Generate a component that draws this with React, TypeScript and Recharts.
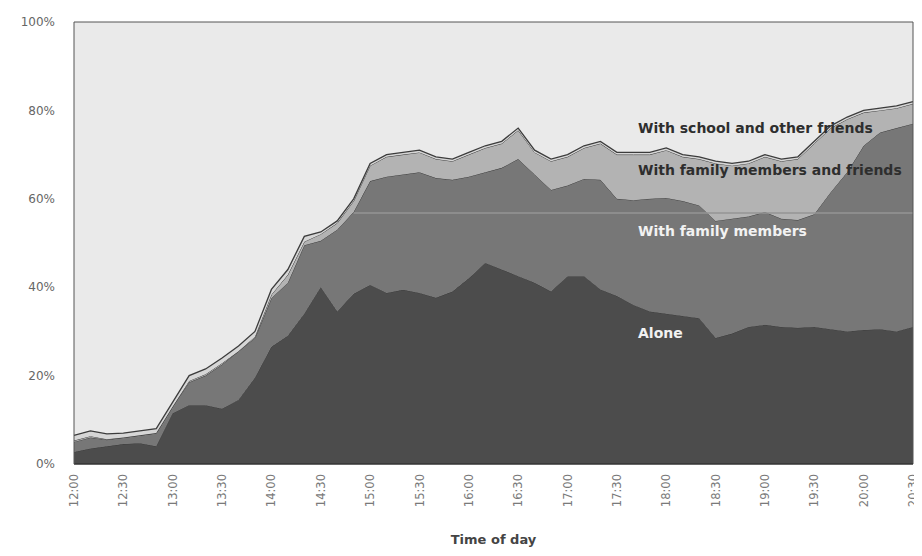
import React from "react";
import {
  AreaChart,
  Area,
  XAxis,
  YAxis,
  CartesianGrid,
  ReferenceLine,
} from "recharts";

const times = [
  "12:00", "12:10", "12:20", "12:30", "12:40", "12:50",
  "13:00", "13:10", "13:20", "13:30", "13:40", "13:50",
  "14:00", "14:10", "14:20", "14:30", "14:40", "14:50",
  "15:00", "15:10", "15:20", "15:30", "15:40", "15:50",
  "16:00", "16:10", "16:20", "16:30", "16:40", "16:50",
  "17:00", "17:10", "17:20", "17:30", "17:40", "17:50",
  "18:00", "18:10", "18:20", "18:30", "18:40", "18:50",
  "19:00", "19:10", "19:20", "19:30", "19:40", "19:50",
  "20:00", "20:10", "20:20", "20:30",
];

// shares of young people (%), stacked bottom to top
const alone = [
  2.7, 3.5, 4.0, 4.5, 4.7, 4.0, 11.5, 13.3, 13.3, 12.5, 14.5, 19.5, 26.5, 29.0,
  34.0, 40.0, 34.5, 38.5, 40.5, 38.7, 39.4, 38.7, 37.6, 39.0, 42.0, 45.5, 44.0,
  42.5, 41.0, 39.0, 42.5, 42.5, 39.5, 38.0, 36.0, 34.5, 34.0, 33.5, 33.0, 28.5,
  29.5, 31.0, 31.5, 31.0, 30.8, 31.0, 30.5, 30.0, 30.3, 30.5, 30.0, 31.0,
];
const withFamily = [
  2.3, 2.5, 1.5, 1.5, 1.8, 3.0, 1.5, 5.2, 6.7, 10.0, 11.0, 9.0, 11.0, 12.0,
  15.5, 10.5, 18.5, 18.5, 23.5, 26.3, 26.1, 27.3, 27.1, 25.3, 23.0, 20.5, 23.0,
  26.5, 24.5, 23.0, 20.5, 22.0, 24.8, 22.0, 23.7, 25.5, 26.2, 26.0, 25.5, 26.5,
  26.0, 25.0, 25.5, 24.5, 24.4, 25.5, 31.0, 36.0, 41.7, 44.5, 46.0, 46.0,
];
const withFamilyAndFriends = [
  0.3, 0.3, 0.1, 0, 0, 0, 0, 0.3, 0.3, 0.3, 0, 0.3, 0.8, 1.8, 0.8, 1.5, 1.5,
  2.5, 3.5, 4.5, 4.5, 4.5, 4.3, 4.2, 5.0, 5.5, 5.5, 6.5, 5.0, 6.5, 6.5, 7.0,
  8.2, 10.0, 10.3, 10.0, 10.8, 10.0, 10.5, 13.0, 12.0, 12.0, 12.5, 13.0, 13.8,
  16.0, 14.5, 12.0, 7.5, 5.0, 4.5, 4.5,
];
const withSchoolFriends = [
  1.2, 1.2, 1.2, 1.0, 1.0, 1.0, 1.0, 1.2, 1.2, 1.2, 1.2, 1.2, 1.2, 1.2, 1.2,
  0.5, 0.5, 0.5, 0.5, 0.5, 0.5, 0.5, 0.5, 0.5, 0.5, 0.5, 0.5, 0.5, 0.5, 0.5,
  0.5, 0.5, 0.5, 0.5, 0.5, 0.5, 0.5, 0.5, 0.5, 0.5, 0.5, 0.5, 0.5, 0.5, 0.5,
  0.5, 0.5, 0.5, 0.5, 0.5, 0.5, 0.5,
];

const yTicks = [0, 20, 40, 60, 80, 100];

const data = times.map((t, i) => ({
  time: t,
  alone: alone[i],
  family: withFamily[i],
  familyFriends: withFamilyAndFriends[i],
  school: withSchoolFriends[i],
}));

const FONT = "'DejaVu Sans', Verdana, sans-serif";
const OUTLINE = "#3c3c3c";

const TimeTick = ({ x, y, payload }: any) => (
  <g transform={`translate(${x},${y + 2})`}>
    <text
      transform="rotate(-90)"
      textAnchor="end"
      dy="0.35em"
      fontSize={11.5}
      fill="#7a7a7a"
      fontFamily={FONT}
    >
      {payload.value}
    </text>
  </g>
);

const labelStyle: React.CSSProperties = {
  position: "absolute",
  fontFamily: FONT,
  fontWeight: "bold",
  fontSize: 14,
  whiteSpace: "nowrap",
  lineHeight: "16px",
};

export default function App() {
  return (
    <div
      style={{
        position: "relative",
        width: 922,
        height: 556,
        margin: "-8px -8px -8px -8px",
        background: "#fff",
        overflow: "hidden",
      }}
    >
      <AreaChart
        width={922}
        height={556}
        data={data}
        margin={{ top: 22, right: 9, left: 0, bottom: 0 }}
        style={{ overflow: "visible" }}
      >
        <CartesianGrid horizontal={false} vertical={false} fill="#eaeaea" />
        <XAxis
          dataKey="time"
          interval={2}
          tick={<TimeTick />}
          tickLine={false}
          axisLine={{ stroke: "#333", strokeWidth: 1.5 }}
          height={92}
          label={{
            value: "Time of day",
            position: "insideBottom",
            offset: 12,
            fontFamily: FONT,
            fontWeight: "bold",
            fontSize: 13,
            fill: "#444",
          }}
        />
        <YAxis
          domain={[0, 100]}
          ticks={yTicks}
          tickFormatter={(v) => `${v}%`}
          width={74}
          tickSize={0}
          tickMargin={19}
          tickLine={false}
          axisLine={{ stroke: "#555" }}
          tick={{ fontSize: 12, fill: "#666", fontFamily: FONT }}
        />
        <Area
          type="linear"
          dataKey="alone"
          stackId="1"
          fill="#4c4c4c"
          fillOpacity={1}
          stroke={OUTLINE}
          strokeWidth={1}
          isAnimationActive={false}
        />
        <Area
          type="linear"
          dataKey="family"
          stackId="1"
          fill="#777777"
          fillOpacity={1}
          stroke={OUTLINE}
          strokeWidth={1}
          isAnimationActive={false}
        />
        <Area
          type="linear"
          dataKey="familyFriends"
          stackId="1"
          fill="#b3b3b3"
          fillOpacity={1}
          stroke={OUTLINE}
          strokeWidth={1}
          isAnimationActive={false}
        />
        <Area
          type="linear"
          dataKey="school"
          stackId="1"
          fill="#d6d6d6"
          fillOpacity={1}
          stroke={OUTLINE}
          strokeWidth={1.3}
          isAnimationActive={false}
        />
        <ReferenceLine
          segment={[
            { x: "14:50", y: 56.8 },
            { x: "20:30", y: 56.8 },
          ]}
          stroke="#959595"
          strokeWidth={1.5}
        />
        <ReferenceLine y={100} stroke="#555" />
        <ReferenceLine x="20:30" stroke="#555" />
      </AreaChart>
      <div
        style={{
          position: "absolute",
          left: 0,
          top: 0,
          width: 922,
          height: 3,
          background: "#4a4a4a",
          zIndex: 2,
        }}
      />
      <div style={{ ...labelStyle, left: 638, top: 120, color: "#2e2e2e" }}>
        With school and other friends
      </div>
      <div style={{ ...labelStyle, left: 638, top: 162, color: "#2e2e2e" }}>
        With family members and friends
      </div>
      <div style={{ ...labelStyle, left: 638, top: 223, color: "#f2f2f2" }}>
        With family members
      </div>
      <div style={{ ...labelStyle, left: 638, top: 325, color: "#f2f2f2" }}>
        Alone
      </div>
    </div>
  );
}
